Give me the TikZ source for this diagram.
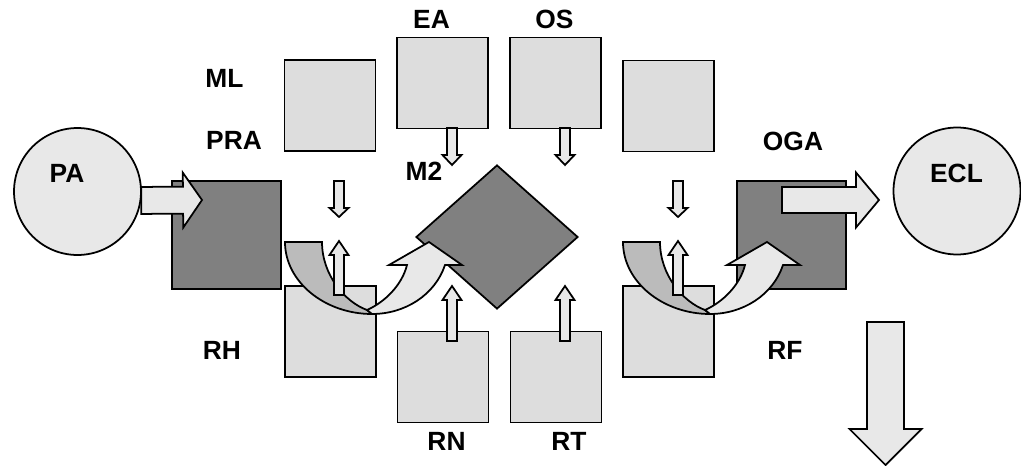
\documentclass[tikz,border=0pt]{standalone}
\usepackage{fontspec}
\setmainfont{Liberation Sans}
\usetikzlibrary{calc,shapes.geometric}

\definecolor{boxfill}{HTML}{DDDDDD}
\definecolor{darkfill}{HTML}{808080}
\definecolor{arrfill}{HTML}{E8E8E8}
\definecolor{bandfill}{HTML}{BBBBBB}

% block arrow: [style]{tail}{tip}{half shaft}{half head}{head length}
\newcommand{\blockarrow}[6][]{%
 \coordinate (ba-n) at ($(#3)!#6!(#2)$);
 \draw[barr,#1] ($(#2)!#4!90:(#3)$) -- ($(ba-n)!#4!90:(#3)$) -- ($(ba-n)!#5!90:(#3)$) -- (#3)
  -- ($(ba-n)!#5!-90:(#3)$) -- ($(ba-n)!#4!-90:(#3)$) -- ($(#2)!#4!-90:(#3)$) -- cycle;}

\tikzset{uturn/.pic={
 \draw[band] (0,0) .. controls (0,40) and (40,72) .. (87,72) -- (82,68) .. controls (60,60) and (37,33) .. (37,0) -- cycle;
 \draw[barr] (82,68) .. controls (100,60) and (117,43) .. (122,23) -- (104,23) -- (144,0) -- (177,23) -- (160,23)
  .. controls (150,53) and (120,72) .. (87,72) -- cycle;}}

\begin{document}
\begin{tikzpicture}[x=0.02cm,y=-0.02cm,line width=1pt,
 sq/.style={draw,fill=boxfill,minimum size=1.82cm,inner sep=0},
 dsq/.style={draw,fill=darkfill,minimum size=2.17cm,inner sep=0},
 circ/.style={draw,circle,fill=arrfill,minimum size=2.54cm,inner sep=0},
 lbl/.style={font=\fontsize{15}{18}\selectfont\bfseries,inner sep=0},
 barr/.style={draw,fill=arrfill},
 band/.style={draw,fill=bandfill}]
\useasboundingbox (0,0) rectangle (1021,466);
\node[sq] (ml) at (330,105.5) {}; \node[sq] (ea) at (442.5,83) {}; \node[sq] (os) at (555.5,83) {}; \node[sq] (ur) at (668.5,106) {};
\node[sq] (rh) at (330.5,331.5) {}; \node[sq] (rn) at (443,377) {}; \node[sq] (rt) at (556,377) {}; \node[sq] (rf) at (668.5,331.5) {};
\node[dsq] (pra) at (226.5,235) {}; \node[dsq] (oga) at (791.5,235) {};
\node[diamond,draw,fill=darkfill,minimum width=3.24cm,minimum height=2.88cm,inner sep=0] (m2) at (497,237) {};
\node[circ] (pa) at (77.5,191.5) {}; \node[circ] (ecl) at (957,191) {};
\pic at (285,242) {uturn}; \pic at (623,242) {uturn};
\coordinate (pa-tip) at (202,200); \coordinate (oga-out) at (782,200); \coordinate (ecl-in) at (879,200);
\coordinate (out-top) at (885.5,322); \coordinate (out-tip) at (885.5,465);
\blockarrow{pa.-8}{pa-tip}{0.27cm}{0.55cm}{0.38cm}
\blockarrow{oga-out}{ecl-in}{0.26cm}{0.55cm}{0.46cm}
\blockarrow{out-top}{out-tip}{0.37cm}{0.72cm}{0.72cm}
\foreach \x in {339,678}{
 \coordinate (dn-\x) at (\x,181); \coordinate (dn-\x-e) at (\x,217);
 \coordinate (up-\x) at (\x,295); \coordinate (up-\x-e) at (\x,241);
 \blockarrow{dn-\x}{dn-\x-e}{0.1cm}{0.19cm}{0.18cm}
 \blockarrow{up-\x}{up-\x-e}{0.1cm}{0.19cm}{0.28cm}}
\foreach \x in {452,565}{
 \coordinate (dn-\x) at (\x,128); \coordinate (dn-\x-e) at (\x,165);
 \coordinate (up-\x) at (\x,341); \coordinate (up-\x-e) at (\x,286);
 \blockarrow{dn-\x}{dn-\x-e}{0.1cm}{0.19cm}{0.2cm}
 \blockarrow{up-\x}{up-\x-e}{0.1cm}{0.19cm}{0.28cm}}
\node[lbl] (ml-t) at (224.5,78.5) {ML}; \node[lbl] (pra-t) at (234,140.5) {PRA};
\node[lbl] (ea-t) at (431.5,19.5) {EA}; \node[lbl] (os-t) at (554.5,19.5) {OS};
\node[lbl] (m2-t) at (424,171.5) {M2}; \node[lbl] (oga-t) at (793,141) {OGA};
\node[lbl] (pa-t) at (67,173) {PA}; \node[lbl] (ecl-t) at (956.5,173) {ECL};
\node[lbl] (rh-t) at (222,350) {RH}; \node[lbl] (rn-t) at (446.5,441) {RN};
\node[lbl] (rt-t) at (569,441) {RT}; \node[lbl] (rf-t) at (785,350) {RF};
\end{tikzpicture}
\end{document}
